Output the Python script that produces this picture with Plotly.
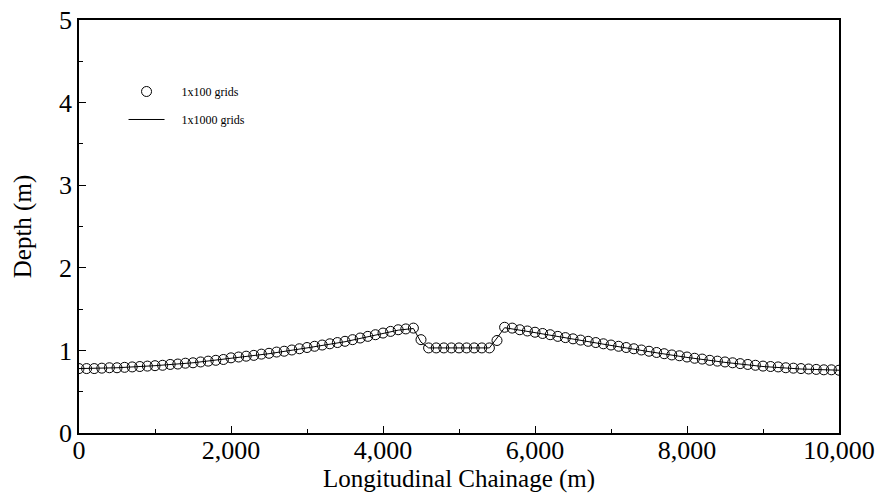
import plotly.graph_objects as go

# Chainage (m) of the 1x100 grid nodes
chainage_100 = list(range(0, 10001, 100))

# Computed depth (m) on the 1x100 grid
depth_100 = [
    0.78, 0.78, 0.78, 0.785, 0.79, 0.79, 0.795, 0.80, 0.805, 0.81,
    0.815, 0.82, 0.83, 0.835, 0.845, 0.85, 0.86, 0.87, 0.88, 0.89,
    0.91, 0.92, 0.93, 0.94, 0.955, 0.965, 0.98, 0.99, 1.005, 1.02,
    1.035, 1.05, 1.065, 1.08, 1.095, 1.11, 1.13, 1.15, 1.17, 1.19,
    1.21, 1.23, 1.25, 1.26, 1.27,
    1.13,
    1.03, 1.03, 1.03, 1.03, 1.03, 1.03, 1.03, 1.03, 1.03,
    1.12,
    1.28, 1.27, 1.25, 1.235, 1.22, 1.205, 1.19, 1.17, 1.155, 1.14,
    1.125, 1.11, 1.095, 1.08, 1.065, 1.05, 1.035, 1.02, 1.005, 0.99,
    0.975, 0.96, 0.945, 0.935, 0.92, 0.905, 0.895, 0.88, 0.87, 0.86,
    0.85, 0.84, 0.83, 0.82, 0.81, 0.805, 0.80, 0.79, 0.785, 0.78,
    0.775, 0.77, 0.765, 0.765, 0.76,
]

# Computed depth (m) on the 1x1000 grid
chainage_1000 = [0, 500, 1000, 1500, 2000, 2500, 3000, 3500, 4000, 4200,
                 4400, 4500, 4600, 5000, 5400, 5500, 5600, 6000, 6500, 7000,
                 7500, 8000, 8500, 9000, 9500, 10000]
depth_1000 = [0.78, 0.79, 0.815, 0.85, 0.905, 0.96, 1.03, 1.105, 1.205, 1.245,
              1.265, 1.10, 1.03, 1.03, 1.03, 1.15, 1.275, 1.215, 1.135, 1.06,
              0.985, 0.915, 0.855, 0.805, 0.775, 0.76]

x_ticks = [0, 2000, 4000, 6000, 8000, 10000]
x_tick_labels = ["0", "2,000", "4,000", "6,000", "8,000", "10,000"]
y_ticks = [0, 1, 2, 3, 4, 5]

serif = "Liberation Serif, Times New Roman, serif"
pad = "\u00a0" * 4  # gap between legend symbol and its label

fig = go.Figure()
fig.add_trace(go.Scatter(
    x=chainage_100, y=depth_100, mode="markers", name=pad + "1x100 grids",
    legendgroup="a",
    marker=dict(symbol="circle-open", size=10, color="black",
                line=dict(width=1, color="black")),
))
fig.add_trace(go.Scatter(
    x=chainage_1000, y=depth_1000, mode="lines", name=pad + "1x1000 grids",
    legendgroup="b",
    line=dict(color="black", width=1),
))

axis_common = dict(
    showgrid=False, zeroline=False, showline=True, mirror=True,
    linecolor="black", linewidth=1.5, ticks="inside", ticklen=7,
    tickwidth=1, tickcolor="black", automargin=False,
    tickfont=dict(family=serif, size=26, color="black"),
)

fig.update_xaxes(
    range=[0, 10000], tickvals=x_ticks, ticktext=x_tick_labels,
    ticklabelstandoff=-7,
    minor=dict(dtick=1000, ticks="inside", ticklen=4, tickcolor="black"),
    title=dict(text="Longitudinal Chainage (m)",
               font=dict(family=serif, size=25, color="black"), standoff=2),
    **axis_common,
)
fig.update_yaxes(
    range=[0, 5], tickvals=y_ticks,
    minor=dict(dtick=0.5, ticks="inside", ticklen=4, tickcolor="black"),
    title=dict(text="Depth (m)",
               font=dict(family=serif, size=25, color="black"), standoff=20),
    **axis_common,
)

fig.update_layout(
    width=880, height=500,
    margin=dict(l=79, r=41, t=20, b=67),
    paper_bgcolor="white", plot_bgcolor="white",
    showlegend=True,
    legend=dict(
        x=0.0586, y=0.862, xanchor="left", yanchor="top",
        bgcolor="rgba(0,0,0,0)", borderwidth=0,
        font=dict(family=serif, size=12, color="black"),
        tracegroupgap=9, itemwidth=36,
    ),
)

fig.write_html("out.html")
